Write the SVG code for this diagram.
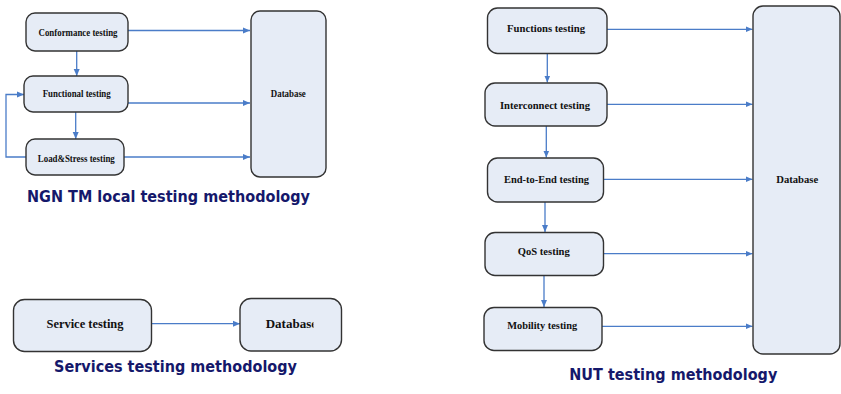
<svg xmlns="http://www.w3.org/2000/svg" width="841" height="394" viewBox="0 0 841 394">
<style>
.box{fill:#e6ecf6;stroke:#333;stroke-width:1.4}
.lbl{font-family:"Liberation Serif","Times New Roman",serif;font-weight:bold;fill:#111;text-anchor:middle}
.s9{font-size:10px}
.s11{font-size:11.2px}
.s12{font-size:13px}
.ttl{font-family:"DejaVu Sans",Verdana,sans-serif;font-weight:bold;font-size:16.5px;fill:#15186b;text-anchor:middle}
.con{fill:none;stroke:#4a7cc8;stroke-width:1.3;marker-end:url(#ah)}
</style>
<defs>
<marker id="ah" markerUnits="userSpaceOnUse" markerWidth="8" markerHeight="8" refX="7" refY="4" orient="auto">
<path d="M0,1 L7,4 L0,7 Z" fill="#4a7cc8"/>
</marker>
<clipPath id="dbclip"><rect x="240" y="298" width="73.5" height="54"/></clipPath>
</defs>

<g id="connectors">
<path class="con" d="M128,30.5 H250"/>
<path class="con" d="M128,103 H250"/>
<path class="con" d="M124,157 H250"/>
<path class="con" d="M76.7,51 V76"/>
<path class="con" d="M75.7,112 V139"/>
<path class="con" d="M26,157 H6 V94.5 H24"/>
<path class="con" d="M152,323.7 H240"/>
<path class="con" d="M607,29.3 H752.5"/>
<path class="con" d="M607,104.3 H752.5"/>
<path class="con" d="M603.5,179.3 H752.5"/>
<path class="con" d="M603.5,253.7 H752.5"/>
<path class="con" d="M602,326.3 H752.5"/>
<path class="con" d="M547.3,53.5 V82.5"/>
<path class="con" d="M546.3,126 V157.5"/>
<path class="con" d="M545,202 V232"/>
<path class="con" d="M544,275.5 V307"/>
</g>

<g id="conformance">
<rect class="box" x="26" y="13" width="102" height="38" rx="9"/>
<text class="lbl s9" x="78" y="35.5" textLength="79" lengthAdjust="spacingAndGlyphs">Conformance testing</text>
</g>
<g id="functional">
<rect class="box" x="24" y="76" width="104" height="36" rx="9"/>
<text class="lbl s9" x="76.7" y="97" textLength="68" lengthAdjust="spacingAndGlyphs">Functional testing</text>
</g>
<g id="loadstress">
<rect class="box" x="26" y="139" width="98" height="36" rx="9"/>
<text class="lbl s9" x="76.3" y="162" textLength="77" lengthAdjust="spacingAndGlyphs">Load&amp;Stress testing</text>
</g>
<g id="database1">
<rect class="box" x="251" y="11" width="75" height="166" rx="9"/>
<text class="lbl s9" x="288.3" y="96.7" textLength="35" lengthAdjust="spacingAndGlyphs">Database</text>
</g>
<text class="ttl" x="168.5" y="201.5" textLength="283" lengthAdjust="spacingAndGlyphs">NGN TM local testing methodology</text>

<g id="service">
<rect class="box" x="13.5" y="299.5" width="138" height="52" rx="11"/>
<text class="lbl s12" x="85" y="327.5" textLength="77" lengthAdjust="spacingAndGlyphs">Service testing</text>
</g>
<g id="database2">
<rect class="box" x="240" y="298.5" width="101.5" height="52.5" rx="11"/>
<text class="lbl s12" x="265.7" y="327.5" style="text-anchor:start" clip-path="url(#dbclip)">Database</text>
</g>
<text class="ttl" x="175.5" y="371.5" textLength="243" lengthAdjust="spacingAndGlyphs">Services testing methodology</text>

<g id="functions">
<rect class="box" x="487.5" y="8" width="119.5" height="45.5" rx="10"/>
<text class="lbl s11" x="546" y="32.3" textLength="78" lengthAdjust="spacingAndGlyphs">Functions testing</text>
</g>
<g id="interconnect">
<rect class="box" x="485" y="83" width="122" height="43" rx="10"/>
<text class="lbl s11" x="545" y="109.3" textLength="90" lengthAdjust="spacingAndGlyphs">Interconnect testing</text>
</g>
<g id="endtoend">
<rect class="box" x="487.5" y="158" width="116" height="44" rx="10"/>
<text class="lbl s11" x="546.5" y="182.7" textLength="85" lengthAdjust="spacingAndGlyphs">End-to-End testing</text>
</g>
<g id="qos">
<rect class="box" x="485" y="232.5" width="118.5" height="43" rx="10"/>
<text class="lbl s11" x="543.8" y="255" textLength="52" lengthAdjust="spacingAndGlyphs">QoS testing</text>
</g>
<g id="mobility">
<rect class="box" x="484" y="307.5" width="118" height="43" rx="10"/>
<text class="lbl s11" x="542.2" y="329.3" textLength="70" lengthAdjust="spacingAndGlyphs">Mobility testing</text>
</g>
<g id="database3">
<rect class="box" x="753" y="6" width="87" height="348" rx="10"/>
<text class="lbl s11" x="797.2" y="183.3" textLength="42" lengthAdjust="spacingAndGlyphs">Database</text>
</g>
<text class="ttl" x="673.3" y="380" textLength="208" lengthAdjust="spacingAndGlyphs">NUT testing methodology</text>
</svg>
